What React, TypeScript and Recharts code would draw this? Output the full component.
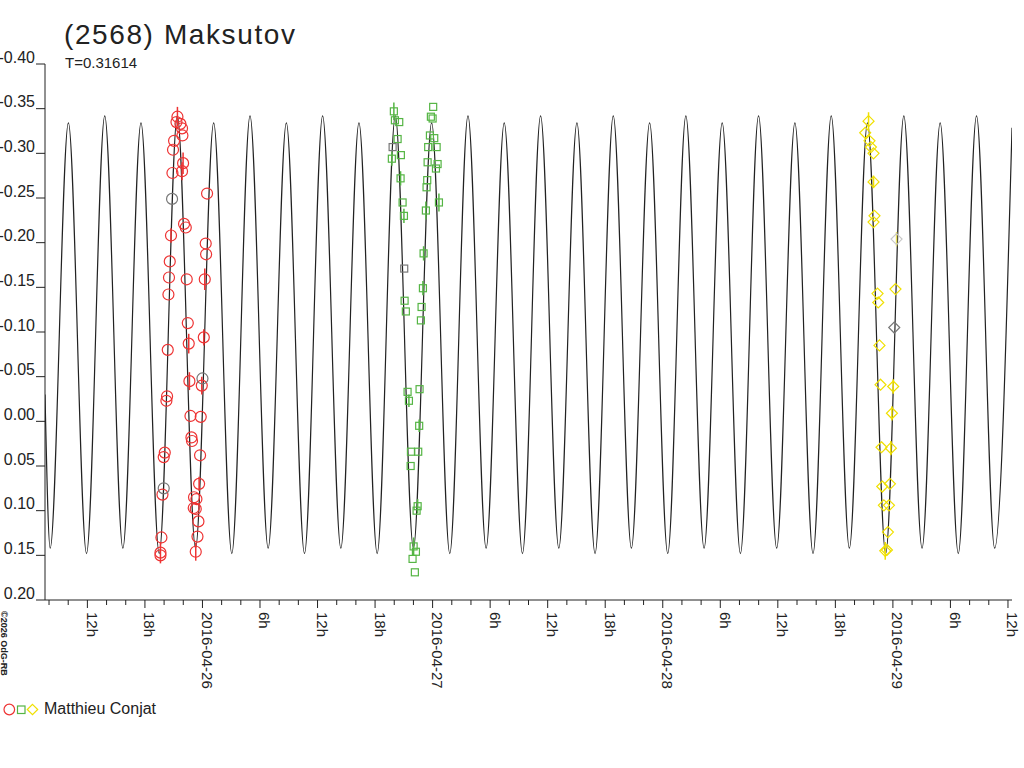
import React from 'react';
import { ComposedChart, Line, Scatter, XAxis, YAxis, ErrorBar } from 'recharts';

// fitted lightcurve: hours since 2016-04-25 00:00 UT, relative magnitude
const curveHours = [
  7.58, 8.12, 10.02, 11.91, 13.81, 15.7, 17.59, 19.49, 21.38, 23.28, 25.17, 27.06, 28.96, 30.85,
  32.75, 34.64, 36.53, 38.43, 40.32, 42.22, 44.11, 46.0, 47.9, 49.79, 51.69, 53.58, 55.47, 57.37,
  59.26, 61.16, 63.05, 64.94, 66.84, 68.73, 70.63, 72.52, 74.41, 76.31, 78.2, 80.1, 81.99, 83.88,
  85.78, 87.67, 89.57, 91.46, 93.35, 95.25, 97.14, 99.04, 100.93, 102.82, 104.72, 106.61, 108.42,
];
const curveMags = [
  -0.03,
  0.142, -0.334, 0.148, -0.342, 0.142, -0.334, 0.148, -0.342, 0.142, -0.334, 0.148, -0.342,
  0.142, -0.334, 0.148, -0.342, 0.142, -0.334, 0.148, -0.342, 0.142, -0.334, 0.148, -0.342,
  0.142, -0.334, 0.148, -0.342, 0.142, -0.334, 0.148, -0.342, 0.142, -0.334, 0.148, -0.342,
  0.142, -0.334, 0.148, -0.342, 0.142, -0.334, 0.148, -0.342, 0.142, -0.334, 0.148, -0.342,
  0.142, -0.334, 0.148, -0.342,
  0.142,
  -0.3285,
];

// observations [hour, mag, error]
const redObs = [
  [21.39, -0.341, 0.011], [21.29, -0.335, 0], [21.7, -0.333, 0], [21.87, -0.328, 0],
  [21.91, -0.32, 0], [21.04, -0.314, 0], [20.93, -0.304, 0], [21.98, -0.289, 0.012],
  [21.87, -0.28, 0.01], [20.87, -0.278, 0], [24.48, -0.255, 0], [22.08, -0.221, 0],
  [22.26, -0.217, 0], [20.72, -0.208, 0.008], [24.34, -0.199, 0], [24.38, -0.187, 0],
  [20.59, -0.179, 0], [20.51, -0.161, 0], [22.36, -0.159, 0], [24.24, -0.159, 0.012],
  [20.45, -0.142, 0], [22.47, -0.11, 0], [22.57, -0.087, 0.011], [24.14, -0.094, 0.009],
  [20.38, -0.08, 0], [22.64, -0.045, 0.01], [23.93, -0.04, 0.01], [20.31, -0.028, 0],
  [20.24, -0.023, 0], [22.75, -0.006, 0], [23.82, -0.005, 0], [22.85, 0.018, 0],
  [22.91, 0.022, 0], [23.75, 0.038, 0], [20.07, 0.035, 0], [19.96, 0.04, 0],
  [23.65, 0.07, 0.008], [19.83, 0.082, 0], [23.12, 0.085, 0], [23.37, 0.087, 0],
  [23.09, 0.097, 0], [23.3, 0.098, 0], [23.58, 0.112, 0], [19.72, 0.13, 0],
  [23.48, 0.129, 0], [19.62, 0.147, 0.012], [19.62, 0.15, 0], [23.3, 0.146, 0.01],
];
const redRejected = [[20.83, -0.249, 0], [24.0, -0.048, 0], [19.96, 0.075, 0]];

const greenObs = [
  [43.96, -0.347, 0.01], [44.07, -0.337, 0], [44.52, -0.335, 0], [48.06, -0.352, 0],
  [47.82, -0.341, 0], [48.0, -0.339, 0], [47.72, -0.32, 0], [48.17, -0.317, 0],
  [44.35, -0.316, 0], [47.54, -0.307, 0], [48.42, -0.307, 0], [44.69, -0.298, 0],
  [43.75, -0.294, 0.008], [47.48, -0.29, 0], [48.52, -0.288, 0], [48.35, -0.283, 0],
  [44.66, -0.272, 0.008], [47.44, -0.27, 0], [47.37, -0.262, 0], [44.87, -0.245, 0],
  [48.66, -0.245, 0.01], [45.01, -0.23, 0.008], [47.3, -0.236, 0.01], [47.06, -0.188, 0.008],
  [46.99, -0.149, 0.008], [45.08, -0.135, 0], [45.21, -0.123, 0], [46.85, -0.128, 0],
  [46.78, -0.113, 0], [45.39, -0.033, 0], [45.53, -0.023, 0.007], [46.64, -0.036, 0],
  [46.6, 0.005, 0.007], [45.74, 0.034, 0], [46.5, 0.034, 0], [45.71, 0.05, 0],
  [46.44, 0.095, 0.008], [46.33, 0.1, 0], [46.02, 0.14, 0.01], [46.26, 0.146, 0],
  [45.91, 0.154, 0], [46.15, 0.169, 0],
];
const greenRejected = [[43.83, -0.307, 0], [45.04, -0.171, 0]];

const yellowObs = [
  [93.46, -0.336, 0.01], [93.11, -0.323, 0], [93.56, -0.314, 0], [93.71, -0.307, 0],
  [93.98, -0.3, 0], [93.98, -0.268, 0.007], [94.08, -0.23, 0], [93.98, -0.223, 0],
  [94.4, -0.143, 0], [94.47, -0.133, 0], [96.27, -0.148, 0], [94.6, -0.085, 0],
  [94.71, -0.041, 0], [96.03, -0.039, 0.008], [95.9, -0.009, 0.008], [94.81, 0.029, 0],
  [95.79, 0.03, 0.008], [94.89, 0.073, 0], [95.69, 0.07, 0], [95.06, 0.094, 0],
  [95.59, 0.094, 0], [95.48, 0.124, 0], [95.2, 0.145, 0.01], [95.38, 0.144, 0],
];
const yellowRejected = [[96.14, -0.105, 0]];
const yellowFaint = [[96.38, -0.204, 0.008]];

const yTicks = [-0.4, -0.35, -0.3, -0.25, -0.2, -0.15, -0.1, -0.05, 0, 0.05, 0.1, 0.15, 0.2];
const xTicks = Array.from({ length: 51 }, (_, i) => 8 + i * 2);
const dayLabels = ['2016-04-25', '2016-04-26', '2016-04-27', '2016-04-28', '2016-04-29'];

const FONT = "'Liberation Sans', Arial, sans-serif";
const INK = '#222';
const RED = '#ee3333';
const GREEN = '#55b544';
const YELLOW = '#f0e000';

const toRows = (list: number[][]) => list.map(([h, m, e]) => ({ h, m, e }));
const curve = curveHours.map((h, i) => ({ h, m: curveMags[i] }));

const hourLabel = (h: number) => {
  const r = h % 24;
  if (r === 0) return dayLabels[h / 24];
  return `${r}h`;
};

const XTick = (props: any) => {
  const { x, y, payload } = props;
  const h = payload.value;
  const major = h % 6 === 0;
  return (
    <g>
      <line x1={x} x2={x} y1={y} y2={y + (major ? 8 : 5)} stroke={INK} />
      {major && (
        <text
          x={x - 0.5}
          y={y + 12}
          transform={`rotate(90 ${x - 0.5} ${y + 12})`}
          fontSize={15}
          fontFamily={FONT}
          fill={INK}
        >
          {hourLabel(h)}
        </text>
      )}
    </g>
  );
};

const YTick = (props: any) => {
  const { x, y, payload } = props;
  return (
    <text x={x} y={y - 1.5} textAnchor="end" fontSize={16} fontFamily={FONT} fill={INK}>
      {payload.value.toFixed(2)}
    </text>
  );
};

const circle = (color: string) => (p: any) => (
  <circle cx={p.cx} cy={p.cy} r={5.5} fill="none" stroke={color} strokeWidth={1.2} />
);
const square = (color: string) => (p: any) => (
  <rect x={p.cx - 3.5} y={p.cy - 3.5} width={7} height={7} fill="none" stroke={color} strokeWidth={1.2} />
);
const diamond = (color: string) => (p: any) => (
  <path
    d={`M${p.cx},${p.cy - 5.5}L${p.cx + 5.5},${p.cy}L${p.cx},${p.cy + 5.5}L${p.cx - 5.5},${p.cy}Z`}
    fill="none"
    stroke={color}
    strokeWidth={1.2}
  />
);

export default function App() {
  return (
    <div style={{ position: 'absolute', left: 0, top: 0, width: 1024, height: 768, background: '#fff' }}>
      <ComposedChart
        width={1024}
        height={768}
        margin={{ top: 64, right: 12, bottom: 138, left: 0 }}
      >
        <XAxis
          type="number"
          dataKey="h"
          domain={[7.58, 108.42]}
          ticks={xTicks}
          interval={0}
          allowDataOverflow
          height={30}
          tickSize={0}
          tickMargin={0}
          tickLine={false}
          axisLine={{ stroke: INK }}
          tick={XTick}
        />
        <YAxis
          type="number"
          dataKey="m"
          domain={[-0.4, 0.2]}
          ticks={yTicks}
          interval={0}
          reversed
          allowDataOverflow
          width={45}
          tickSize={9}
          tickMargin={1}
          tickLine={{ stroke: INK }}
          axisLine={{ stroke: INK }}
          tick={YTick}
        />
        <Line
          data={curve}
          dataKey="m"
          type="monotone"
          stroke={INK}
          strokeWidth={1.2}
          dot={false}
          isAnimationActive={false}
        />
        <Scatter data={toRows(redObs)} dataKey="m" shape={circle(RED)} isAnimationActive={false}>
          <ErrorBar dataKey="e" direction="y" width={0} stroke={RED} strokeWidth={1.5} />
        </Scatter>
        <Scatter data={toRows(redRejected)} dataKey="m" shape={circle('#777')} isAnimationActive={false} />
        <Scatter data={toRows(greenObs)} dataKey="m" shape={square(GREEN)} isAnimationActive={false}>
          <ErrorBar dataKey="e" direction="y" width={0} stroke={GREEN} strokeWidth={1.5} />
        </Scatter>
        <Scatter data={toRows(greenRejected)} dataKey="m" shape={square('#777')} isAnimationActive={false} />
        <Scatter data={toRows(yellowObs)} dataKey="m" shape={diamond(YELLOW)} isAnimationActive={false}>
          <ErrorBar dataKey="e" direction="y" width={0} stroke={YELLOW} strokeWidth={1.5} />
        </Scatter>
        <Scatter data={toRows(yellowRejected)} dataKey="m" shape={diamond('#777')} isAnimationActive={false} />
        <Scatter data={toRows(yellowFaint)} dataKey="m" shape={diamond('#c8c8c8')} isAnimationActive={false}>
          <ErrorBar dataKey="e" direction="y" width={0} stroke="#e8e060" strokeWidth={1.5} />
        </Scatter>
      </ComposedChart>

      {/* title, period, legend and credit */}
      <svg
        width={1024}
        height={768}
        style={{ position: 'absolute', left: 0, top: 0, pointerEvents: 'none' }}
        fontFamily={FONT}
      >
        <text x={64} y={44} fontSize={28} letterSpacing={1.6} fill={INK}>(2568) Maksutov</text>
        <text x={65} y={68} fontSize={15} fill={INK}>T=0.31614</text>
        <text
          x={1}
          y={611}
          transform="rotate(90 1 611)"
          fontSize={9}
          fontWeight="bold"
          fill={INK}
        >
          ©2026 OdG-RB
        </text>
        <circle cx={9.3} cy={709.5} r={5.3} fill="none" stroke={RED} strokeWidth={1.2} />
        <rect x={17.5} y={706} width={7.5} height={7.5} fill="none" stroke={GREEN} strokeWidth={1.2} />
        <path d="M32.5,704.3L37.7,709.5L32.5,714.7L27.3,709.5Z" fill="none" stroke={YELLOW} strokeWidth={1.2} />
        <text x={44} y={714} fontSize={16} fill={INK}>Matthieu Conjat</text>
      </svg>
    </div>
  );
}
